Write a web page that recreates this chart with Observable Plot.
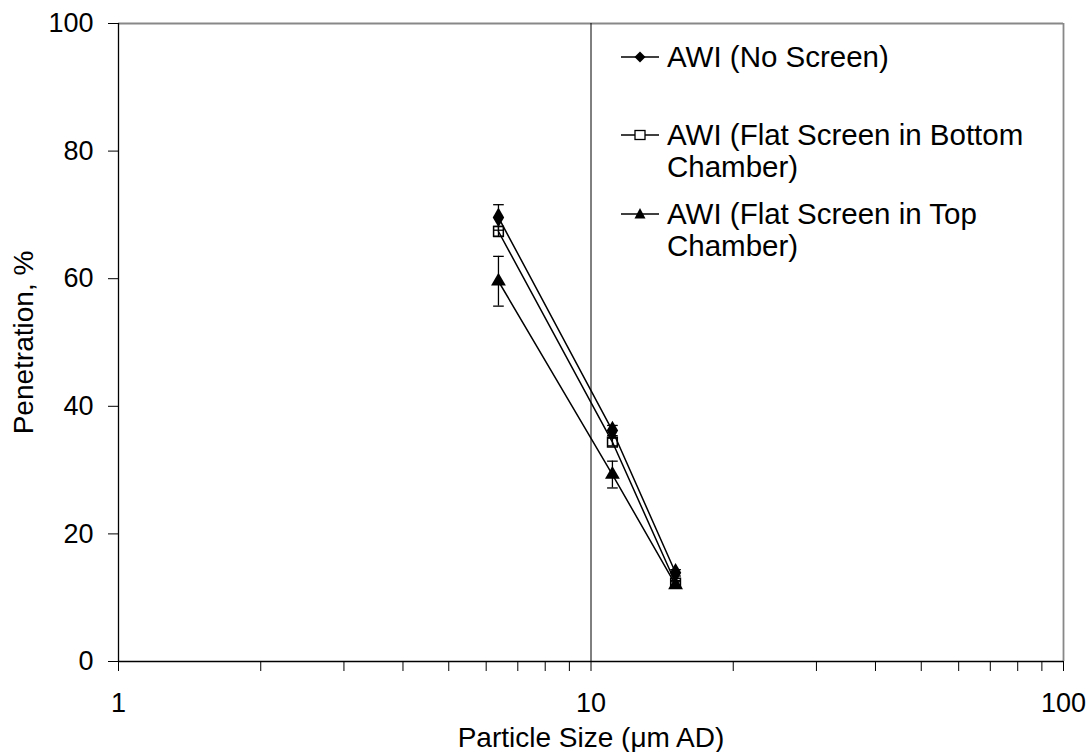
<!DOCTYPE html>
<html>
<head>
<meta charset="utf-8">
<script src="https://cdn.jsdelivr.net/npm/d3@7"></script>
<script src="https://cdn.jsdelivr.net/npm/@observablehq/plot@0.6"></script>
<style>
  body { margin: 0; background: #fff; font-family: "Liberation Sans", Arial, sans-serif; }
  #wrap { position: relative; width: 1091px; height: 752px; }
  #legend { position: absolute; left: 0; top: 0; font-size: 29.5px; color: #000; }
  .entry { position: absolute; display: flex; align-items: flex-start; }
  .entry svg { flex: none; display: block; }
  .entry div { line-height: 32px; white-space: nowrap; }
</style>
</head>
<body>
<div id="wrap"><div id="legend"></div></div>
<script>
const sizes = [6.37, 11.1, 15.1];
const seriesNames = ["AWI (No Screen)", "AWI (Flat Screen in Bottom Chamber)", "AWI (Flat Screen in Top Chamber)"];
const legendLines = [["AWI (No Screen)"], ["AWI (Flat Screen in Bottom", "Chamber)"], ["AWI (Flat Screen in Top", "Chamber)"]];
const noScreen = [69.6, 36.2, 13.9];
const noScreenErr = [2.0, 0.8, 0.5];
const flatBottom = [67.4, 34.4, 12.3];
const flatBottomErr = [0.8, 0.6, 0.4];
const flatTop = [59.6, 29.3, 12.0];
const flatTopErr = [3.9, 2.1, 0.5];
const xTicks = [1,2,3,4,5,6,7,8,9,10,20,30,40,50,60,70,80,90,100];
const xMajor = [1, 10, 100];
const yTicks = [0, 20, 40, 60, 80, 100];

const values = [noScreen, flatBottom, flatTop];
const errs = [noScreenErr, flatBottomErr, flatTopErr];
const data = [];
values.forEach((vals, s) => vals.forEach((v, i) => data.push({series: seriesNames[s], x: sizes[i], y: v, lo: v - errs[s][i], hi: v + errs[s][i]})));
const bySeries = s => data.filter(d => d.series === seriesNames[s]);

// horizontal cap symbol for error bars
const cap = {draw(ctx, size) { const w = Math.sqrt(size) / 2; ctx.moveTo(-w, 0); ctx.lineTo(w, 0); }};

const font = '"Liberation Sans", Arial, sans-serif';
const chart = Plot.plot({
  width: 1091,
  height: 752,
  marginLeft: 118,
  marginRight: 28,
  marginTop: 23,
  marginBottom: 91,
  style: {fontFamily: font, fontSize: "27px", color: "#000", background: "#fff"},
  x: {type: "log", domain: [1, 100]},
  y: {domain: [0, 100]},
  marks: [
    Plot.ruleY([100], {stroke: "#888", strokeWidth: 1.8}),
    Plot.ruleX([100], {stroke: "#888", strokeWidth: 1.8}),
    Plot.ruleX([10], {stroke: "#000", strokeWidth: 1}),
    Plot.axisY({ticks: yTicks, tickSize: 10, tickPadding: 15, fontSize: 27, label: null}),
    Plot.axisY({ticks: [], label: "Penetration, %", labelAnchor: "center", labelArrow: "none", labelOffset: 105, fontSize: 28}),
    Plot.axisX({ticks: xTicks, tickFormat: d => xMajor.includes(d) ? String(d) : "", tickSize: 10, tickPadding: 21, fontSize: 27, label: null}),
    Plot.axisX({ticks: [], label: "Particle Size (μm AD)", labelAnchor: "center", labelArrow: "none", labelOffset: 85, fontSize: 28}),
    Plot.ruleX([1], {stroke: "#000", strokeWidth: 1.3}),
    Plot.ruleY([0], {stroke: "#000", strokeWidth: 1.3}),
    // error bars
    Plot.ruleX(data, {x: "x", y1: "lo", y2: "hi", stroke: "#000", strokeWidth: 1.3}),
    Plot.dot(data, {x: "x", y: "lo", symbol: cap, r: 6, fill: "none", stroke: "#000", strokeWidth: 1.3}),
    Plot.dot(data, {x: "x", y: "hi", symbol: cap, r: 6, fill: "none", stroke: "#000", strokeWidth: 1.3}),
    // lines
    Plot.line(bySeries(0), {x: "x", y: "y", stroke: "#000", strokeWidth: 1.5}),
    Plot.line(bySeries(1), {x: "x", y: "y", stroke: "#000", strokeWidth: 1.5}),
    Plot.line(bySeries(2), {x: "x", y: "y", stroke: "#000", strokeWidth: 1.5}),
    // markers
    Plot.dot(bySeries(2), {x: "x", y: "y", symbol: "triangle", r: 5.5, fill: "#000", stroke: "none"}),
    Plot.dot(bySeries(0), {x: "x", y: "y", symbol: "diamond", r: 6, fill: "#000", stroke: "none"}),
    Plot.dot(bySeries(1), {x: "x", y: "y", symbol: "square", r: 5.5, fill: "none", stroke: "#000", strokeWidth: 1.5})
  ]
});
document.getElementById("wrap").prepend(chart);

// legend
const legendTops = [41, 119, 198];
const legendSymbols = [
  '<path d="M21,10.5 L26.5,16 L21,21.5 L15.5,16 Z" fill="#000"/>',
  '<rect x="16" y="11.5" width="10" height="9" fill="#fff" stroke="#000" stroke-width="1.3"/>',
  '<path d="M21,10 L26.5,20.5 L15.5,20.5 Z" fill="#000"/>'
];
const legend = document.getElementById("legend");
legendLines.forEach((lines, i) => {
  const e = document.createElement("div");
  e.className = "entry";
  e.style.left = "619px";
  e.style.top = legendTops[i] + "px";
  e.innerHTML = `<svg width="48" height="32"><line x1="2" x2="40" y1="16" y2="16" stroke="#000" stroke-width="1.5"/>${legendSymbols[i]}</svg><div>${lines.join("<br>")}</div>`;
  legend.appendChild(e);
});
</script>
</body>
</html>
